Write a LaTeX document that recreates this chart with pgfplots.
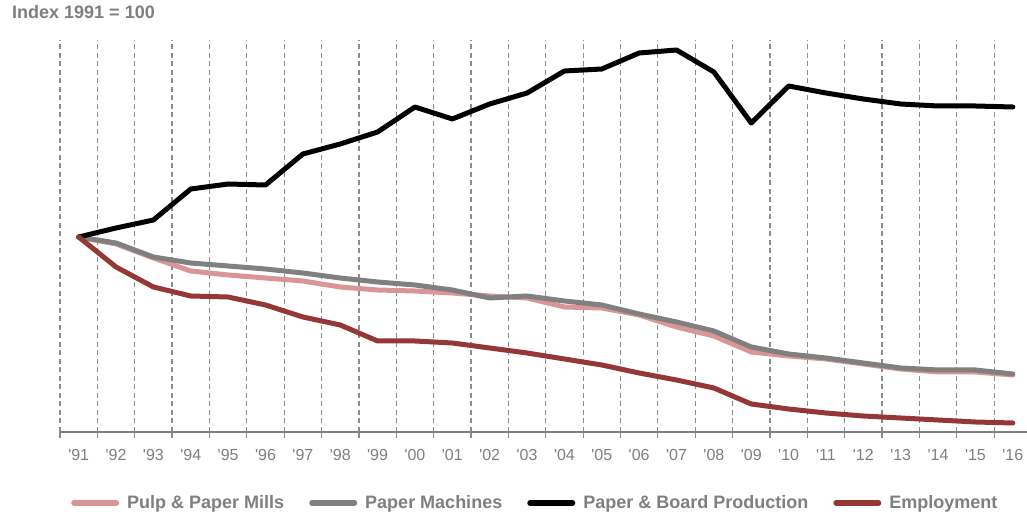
\documentclass[border=0pt]{standalone}
\usepackage{fontspec}
\setmainfont{Liberation Sans}
\usepackage{pgfplots}
\pgfplotsset{compat=1.18}
\definecolor{txtgray}{HTML}{7F7F7F}
\definecolor{gridgray}{HTML}{8C8C8C}
\definecolor{mills}{HTML}{D99694}
\definecolor{machines}{HTML}{808080}
\definecolor{employ}{HTML}{953735}
\newcommand{\q}{\textquotesingle}

% index 1991 = 100
\pgfplotstableread{
x  mills  machines  board   employ
0  100.00 100.00   100.00  100.00
1  98.25  98.50    102.25  92.50
2  94.75  95.00    104.25  87.50
3  91.50  93.50    112.00  85.25
4  90.50  92.75    113.25  85.00
5  89.75  92.00    113.00  83.00
6  89.00  91.00    120.75  80.00
7  87.50  89.75    123.25  78.00
8  86.75  88.75    126.25  74.00
9  86.50  88.00    132.50  74.00
10 86.00  86.75    129.50  73.50
11 85.25  84.75    133.25  72.25
12 84.75  85.25    136.00  71.00
13 82.50  84.00    141.50  69.50
14 82.25  83.00    142.00  68.00
15 80.50  80.75    146.00  66.00
16 77.50  78.75    146.75  64.25
17 75.25  76.50    141.25  62.25
18 71.25  72.50    128.50  58.25
19 70.25  70.75    137.75  57.00
20 69.50  69.75    136.00  56.00
21 68.25  68.50    134.50  55.25
22 67.00  67.25    133.25  54.75
23 66.25  66.75    132.75  54.25
24 66.25  66.75    132.75  53.75
25 65.50  65.75    132.50  53.50
}\data

\begin{document}
\begin{tikzpicture}
\useasboundingbox (0,0) rectangle (1027pt,518pt);
\node[anchor=west, inner sep=0pt, text=txtgray, font=\bfseries\fontsize{18}{18}\selectfont] at (12pt,506pt) {Index 1991 = 100};
\begin{axis}[
  at={(60pt,86pt)}, anchor=south west,
  scale only axis,
  width=967pt, height=392pt,
  xmin=-0.5, xmax=25.38,
  ymin=51.25, ymax=149.25,
  axis x line=bottom,
  axis y line=none,
  axis line style={machines, line width=2pt, -},
  xtick={0,...,25},
  xticklabels={\q 91,\q 92,\q 93,\q 94,\q 95,\q 96,\q 97,\q 98,\q 99,\q 00,\q 01,\q 02,\q 03,\q 04,\q 05,\q 06,\q 07,\q 08,\q 09,\q 10,\q 11,\q 12,\q 13,\q 14,\q 15,\q 16},
  major tick length=0pt,
  minor xtick={-0.5,0.5,...,24.5},
  minor tick length=6pt,
  tick align=outside,
  minor tick style={gridgray, line width=1.2pt},
  xminorgrids=true,
  minor grid style={gridgray, line width=1.2pt, dash pattern=on 5pt off 3.5pt},
  xticklabel style={anchor=base, yshift=-29pt, text=txtgray, font=\fontsize{16}{16}\selectfont},
  legend columns=4,
  legend style={draw=none, fill=none, at={(0.00827,-0.1811)}, anchor=west,
    font=\bfseries\fontsize{18}{18}\selectfont, text=txtgray,
    nodes={inner sep=0pt},
    /tikz/every odd column/.append style={column sep=8pt},
    /tikz/every even column/.append style={column sep=25pt}},
  legend image code/.code={\draw[#1, line width=5.5pt, line cap=round] (2.75pt,0pt) -- (45.25pt,0pt);},
  every axis plot/.append style={line width=5pt, line cap=round, line join=round},
]
\addplot[mills, no marks] table[x=x, y=mills] {\data};
\addlegendentry{Pulp \& Paper Mills}
\addplot[machines, no marks] table[x=x, y=machines] {\data};
\addlegendentry{Paper Machines}
\addplot[black, no marks] table[x=x, y=board] {\data};
\addlegendentry{Paper \& Board Production}
\addplot[employ, no marks] table[x=x, y=employ] {\data};
\addlegendentry{Employment}
\end{axis}
\end{tikzpicture}
\end{document}
